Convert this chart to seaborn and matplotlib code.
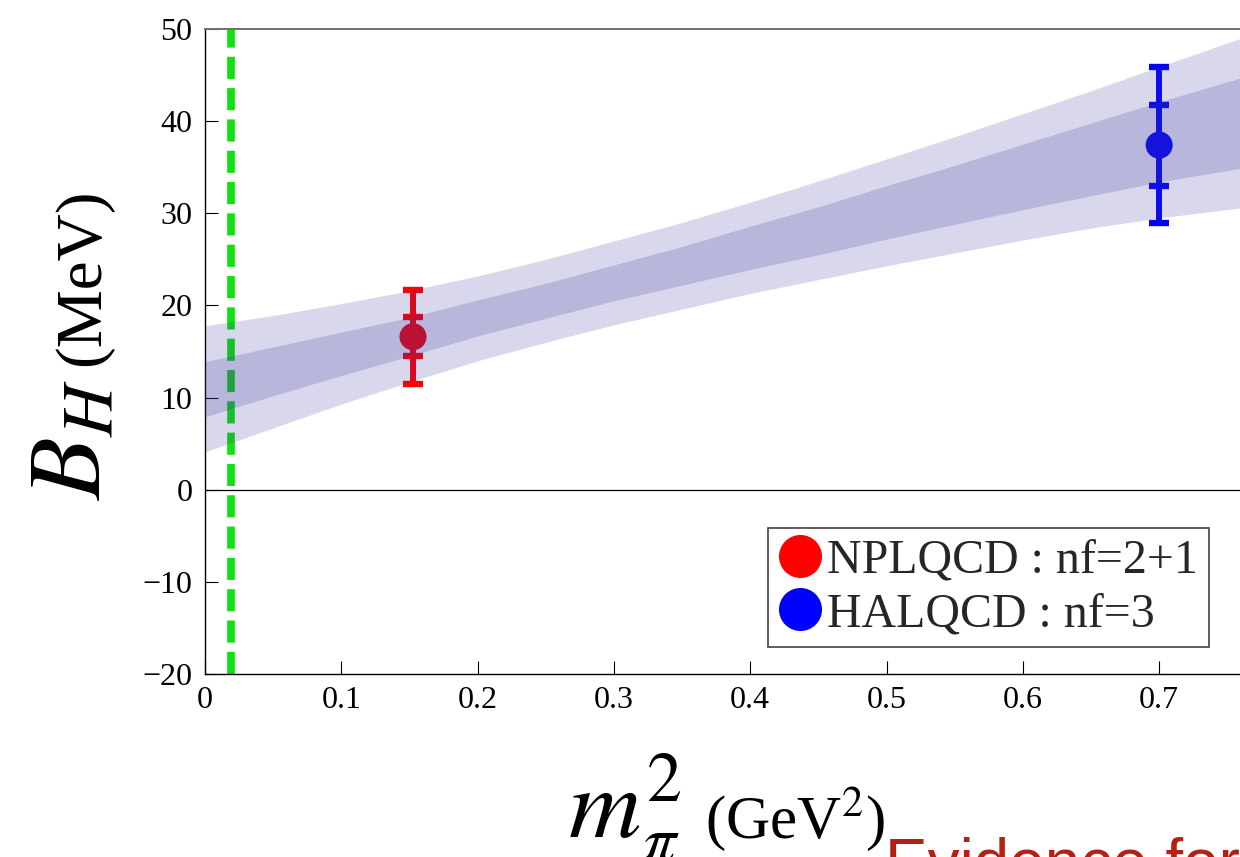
import numpy as np
import pandas as pd
import matplotlib
matplotlib.use("Agg")
import matplotlib.pyplot as plt
import seaborn as sns
from matplotlib.lines import Line2D

# Lattice QCD results for the H-dibaryon binding energy
collaborations = ["NPLQCD : nf=2+1", "HALQCD : nf=3"]
point_colors = ["#ff0000", "#0000ff"]
mpi_sq = [0.1526, 0.700]          # GeV^2
binding = [16.6, 37.4]            # MeV
err_stat = [2.1, 4.4]
err_total = [5.1, 8.5]

# physical pion mass squared
phys_mpi_sq = 0.0191

# extrapolation bands (inner = 1 sigma, outer = 2 sigma)
band_x = [0.0, 0.05, 0.1, 0.15, 0.2, 0.25, 0.3, 0.35, 0.4, 0.45,
          0.5, 0.55, 0.6, 0.65, 0.7, 0.76]
inner_lo = [7.9, 10.2, 12.4, 14.5, 16.7, 18.6, 20.5, 22.2, 23.9, 25.5,
            27.2, 28.8, 30.4, 31.9, 33.4, 34.9]
inner_hi = [13.9, 15.5, 17.1, 18.7, 20.6, 22.4, 24.4, 26.4, 28.6, 30.7,
            33.0, 35.2, 37.5, 39.8, 42.1, 44.7]
outer_lo = [4.1, 6.7, 9.3, 11.7, 14.0, 16.0, 17.9, 19.6, 21.3, 22.8,
            24.3, 25.7, 27.1, 28.4, 29.5, 30.6]
outer_hi = [17.8, 18.9, 20.2, 21.6, 23.2, 25.0, 27.0, 29.0, 31.2, 33.5,
            35.9, 38.3, 40.8, 43.3, 45.9, 49.0]

x_ticks = [0.0, 0.1, 0.2, 0.3, 0.4, 0.5, 0.6, 0.7]
x_ticklabels = ["0", "0.1", "0.2", "0.3", "0.4", "0.5", "0.6", "0.7"]
y_ticks = [-20, -10, 0, 10, 20, 30, 40, 50]

sns.set_theme(style="white")
plt.rcParams["font.family"] = ["Liberation Serif", "DejaVu Serif"]
plt.rcParams["mathtext.fontset"] = "stix"

W, H = 1240, 857
fig = plt.figure(figsize=(W / 100, H / 100), dpi=100)
ax = fig.add_axes([205 / W, 1 - 674 / H, 1 - 205 / W, (674 - 29) / H])

df = pd.DataFrame({"collab": collaborations, "mpi_sq": mpi_sq, "binding": binding})

# error bars: total (outer caps) and statistical (inner caps)
for x, y, es, et, c in zip(mpi_sq, binding, err_stat, err_total, point_colors):
    for e in (et, es):
        ax.errorbar([x], [y], yerr=[e], fmt="none", ecolor=c, elinewidth=4.3,
                    capsize=7, capthick=4.6, zorder=1)

sns.scatterplot(data=df, x="mpi_sq", y="binding", hue="collab",
                palette=point_colors, s=380, edgecolor="none", linewidth=0,
                legend=False, zorder=2, ax=ax)

# physical point
ax.axvline(phys_mpi_sq, color="#10e010", lw=5.5, dashes=(2.9, 1.2),
           dash_capstyle="butt", zorder=2)
ax.axhline(0, color="black", lw=0.9, zorder=1.5)

# chiral extrapolation bands drawn over the data
band_color = (60 / 255, 56 / 255, 155 / 255)
ax.fill_between(band_x, outer_lo, outer_hi, color=band_color, alpha=0.2,
                lw=0, zorder=3)
ax.fill_between(band_x, inner_lo, inner_hi, color=band_color, alpha=0.2,
                lw=0, zorder=3)

ax.set_xlim(0, 0.7593)
ax.set_ylim(-20, 50)
ax.set_xticks(x_ticks)
ax.set_xticklabels(x_ticklabels)
ax.set_yticks(y_ticks)
ax.set_xlabel("")
ax.set_ylabel("")
ax.tick_params(direction="in", length=9.5, width=0.8, labelsize=23, pad=9,
               color="black", labelcolor="black", bottom=True, left=True)

for side in ("left", "bottom"):
    ax.spines[side].set_color("black")
    ax.spines[side].set_linewidth(1.0)
ax.spines["top"].set_color("#707070")
ax.spines["top"].set_linewidth(1.4)
ax.spines["right"].set_visible(False)

# legend
handles = [Line2D([], [], marker="o", linestyle="", markersize=31,
                  markerfacecolor=c, markeredgewidth=0, color=c)
           for c in point_colors]
leg = ax.legend(handles, collaborations, loc="upper left",
                bbox_to_anchor=(768 / W, 1 - 528 / H),
                bbox_transform=fig.transFigure, borderaxespad=0,
                prop={"family": "Liberation Serif", "size": 34.5},
                frameon=True, fancybox=False, edgecolor="#505050",
                framealpha=1, handlelength=0.9, handletextpad=0.12,
                borderpad=0.22, labelspacing=0.2)
leg.get_frame().set_linewidth(1.3)

# axis labels
fig.text(100 / W, 1 - 500 / H, r"$B_H$", rotation=90, rotation_mode="anchor",
         ha="left", va="baseline", fontsize=74, color="black")
fig.text(99 / W, 1 - 366 / H, "(MeV)", rotation=90, rotation_mode="anchor",
         ha="left", va="baseline", fontsize=47, color="black")
fig.text(568 / W, 1 - 838 / H, r"$m_\pi^2$", ha="left", va="baseline",
         fontsize=72, color="black")
fig.text(705 / W, 1 - 838 / H, r"(GeV$^2$)", ha="left", va="baseline",
         fontsize=44, color="black")

fig.text(885 / W, 1 - 884 / H, "Evidence for", ha="left", va="baseline",
         fontsize=46, color="#b52015", family="Liberation Sans")

fig.savefig("out.png", dpi=100)
